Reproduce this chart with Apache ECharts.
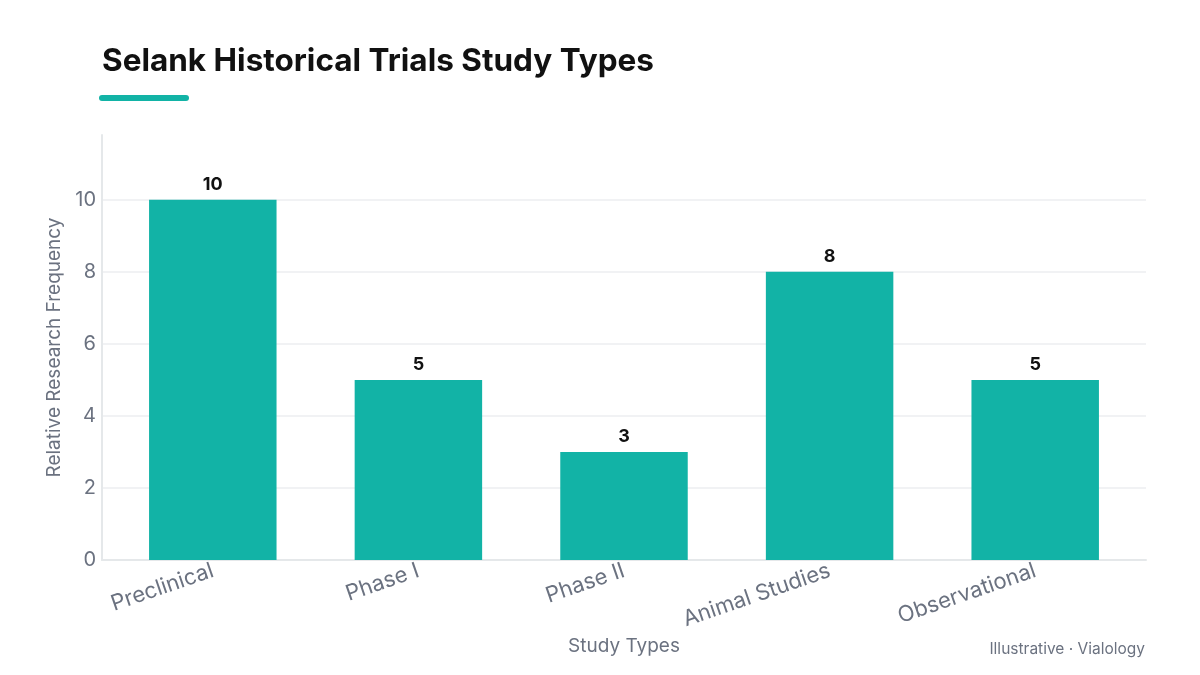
<!DOCTYPE html>
<html>
<head>
<meta charset="utf-8">
<script src="https://cdn.jsdelivr.net/npm/echarts@6/dist/echarts.min.js"></script>
<style>html,body{margin:0;padding:0;background:#fff}#c{width:1200px;height:675px}</style>
</head>
<body>
<div id="c"></div>
<script>
const categories = ['Preclinical', 'Phase I', 'Phase II', 'Animal Studies', 'Observational'];
const values = [10, 5, 3, 8, 5];
const yTicks = [0, 2, 4, 6, 8, 10];

const teal = '#12b3a6';
const gray = '#6b7280';
const font = 'Inter, "Noto Sans", sans-serif';

const chart = echarts.init(document.getElementById('c'), null, {renderer: 'canvas'});
chart.setOption({
  backgroundColor: '#ffffff',
  animation: false,
  title: {
    text: 'Selank Historical Trials Study Types',
    left: 97, top: 41,
    textStyle: {fontFamily: font, fontSize: 31.5, fontWeight: 700, color: '#111111'}
  },
  graphic: [
    {type: 'rect', left: 99, top: 95, shape: {width: 90, height: 6, r: 3}, style: {fill: teal}},
    {type: 'text', right: 55, top: 641, style: {text: 'Illustrative · Vialology', font: '15.5px ' + font, fill: gray}}
  ],
  grid: [
    {left: 102, right: 54, top: 135, bottom: 115},
    {left: 110, right: 62, top: 135, bottom: 115}
  ],
  xAxis: [
    {gridIndex: 0, type: 'category', data: categories, show: true,
     axisLine: {show: true, lineStyle: {color: '#e5e8ea', width: 2}}, axisTick: {show: false}, axisLabel: {show: false},
     name: 'Study Types', nameLocation: 'middle', nameGap: 77,
     nameTextStyle: {fontFamily: font, fontSize: 19, color: gray}},
    {gridIndex: 1, type: 'category', data: categories,
     axisLine: {show: false}, axisTick: {show: false},
     axisLabel: {rotate: 19, fontFamily: font, fontSize: 22, color: gray, margin: 10, interval: 0}}
  ],
  yAxis: [
    {gridIndex: 0, type: 'value', min: 0, max: 11.8, interval: 2,
     axisLine: {show: true, lineStyle: {color: '#e5e8ea', width: 2}}, axisTick: {show: false},
     axisLabel: {fontFamily: font, fontSize: 20, color: gray, margin: 6, showMaxLabel: false,
       formatter: v => yTicks.includes(v) ? String(v) : ''},
     splitLine: {show: true, showMaxLine: false, lineStyle: {color: '#eceef0', width: 1.5}},
     name: 'Relative Research Frequency', nameLocation: 'middle', nameGap: 38,
     nameTextStyle: {fontFamily: font, fontSize: 19, color: gray}},
    {gridIndex: 1, type: 'value', min: 0, max: 11.8, interval: 2, show: false, splitLine: {show: false}}
  ],
  series: [{
    type: 'bar', xAxisIndex: 1, yAxisIndex: 1,
    data: values, barWidth: '62%',
    itemStyle: {color: teal},
    label: {show: true, position: 'top', distance: 6, fontFamily: font, fontSize: 18, fontWeight: 700, color: '#111111'}
  }]
});
</script>
</body>
</html>
